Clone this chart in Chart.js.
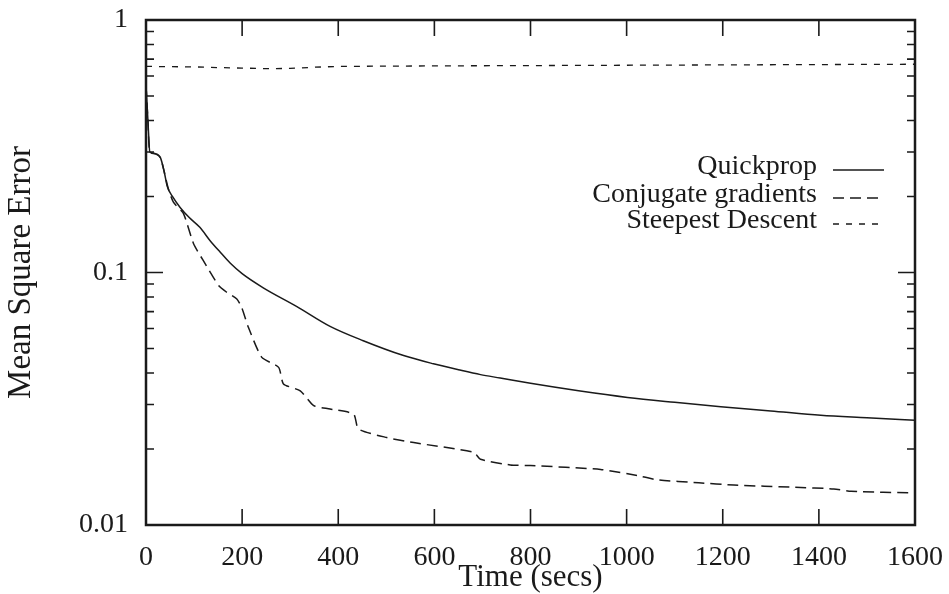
<!DOCTYPE html>
<html>
<head>
<meta charset="utf-8">
<script src="https://cdn.jsdelivr.net/npm/chart.js@4"></script>
<style>
  html, body { margin: 0; padding: 0; background: #fff; }
  #wrap { width: 949px; height: 594px; }
</style>
</head>
<body>
<div id="wrap"><canvas id="errChart"></canvas></div>
<script>
// values (time in secs, mean square error)
const quickTime = [0, 4, 8, 20, 30, 38, 44, 55, 71, 90, 112, 133, 155, 175, 200, 244, 314, 383, 452, 536, 598, 650, 696, 737, 800, 900, 1002, 1100, 1196, 1300, 1404, 1500, 1600];
const quickErr  = [0.55, 0.40, 0.30, 0.295, 0.285, 0.25, 0.22, 0.20, 0.181, 0.165, 0.151, 0.134, 0.12, 0.109, 0.099, 0.087, 0.0733, 0.0612, 0.0537, 0.0469, 0.0435, 0.0412, 0.0394, 0.0382, 0.0364, 0.034, 0.032, 0.0306, 0.0294, 0.0283, 0.0272, 0.0266, 0.026];

const conjTime = [0, 4, 8, 20, 30, 38, 46, 57, 78, 99, 119, 151, 168, 189, 199, 213, 241, 276, 286, 321, 349, 383, 432, 442, 501, 557, 682, 696, 758, 800, 946, 1029, 1064, 1150, 1223, 1350, 1431, 1467, 1600];
const conjErr  = [0.55, 0.40, 0.30, 0.295, 0.285, 0.25, 0.216, 0.19, 0.171, 0.13, 0.1116, 0.0888, 0.0835, 0.0786, 0.0728, 0.0607, 0.0461, 0.0421, 0.0362, 0.034, 0.0297, 0.0288, 0.0275, 0.024, 0.0222, 0.0212, 0.0194, 0.0182, 0.0173, 0.0172, 0.0166, 0.0156, 0.0151, 0.0147, 0.0144, 0.0141, 0.0139, 0.0136, 0.0134];

const steepTime = [0, 100, 150, 200, 250, 300, 350, 400, 600, 800, 1000, 1200, 1400, 1600];
const steepErr  = [0.655, 0.652, 0.648, 0.645, 0.642, 0.643, 0.65, 0.655, 0.658, 0.66, 0.662, 0.664, 0.666, 0.668];

const seriesNames = ['Quickprop', 'Conjugate gradients', 'Steepest Descent'];

const xTicks = [0, 200, 400, 600, 800, 1000, 1200, 1400, 1600];
const yMajor = [0.01, 0.1, 1];
const yTickLabels = ['0.01', '0.1', '1'];
const yMinor = [0.02, 0.03, 0.04, 0.05, 0.06, 0.07, 0.08, 0.09, 0.2, 0.3, 0.4, 0.5, 0.6, 0.7, 0.8, 0.9];

const ink = '#1a1a1a';
const serif = 'Liberation Serif';

function pts(xs, ys) {
    return xs.map((x, i) => ({ x: x, y: ys[i] }));
}

// frame + inward ticks on all four sides
const framePlugin = {
    id: 'frame',
    afterDatasetsDraw(chart) {
        const { ctx, chartArea: a, scales: { x, y } } = chart;
        ctx.save();
        ctx.strokeStyle = ink;
        ctx.lineWidth = 1.6;
        ctx.beginPath();
        xTicks.forEach(v => {
            const px = x.getPixelForValue(v);
            ctx.moveTo(px, a.bottom); ctx.lineTo(px, a.bottom - 16);
            ctx.moveTo(px, a.top); ctx.lineTo(px, a.top + 16);
        });
        yMajor.forEach(v => {
            const py = y.getPixelForValue(v);
            ctx.moveTo(a.left, py); ctx.lineTo(a.left + 17, py);
            ctx.moveTo(a.right, py); ctx.lineTo(a.right - 17, py);
        });
        yMinor.forEach(v => {
            const py = y.getPixelForValue(v);
            ctx.moveTo(a.left, py); ctx.lineTo(a.left + 8, py);
            ctx.moveTo(a.right, py); ctx.lineTo(a.right - 8, py);
        });
        ctx.stroke();
        ctx.lineWidth = 2.5;
        ctx.strokeRect(a.left, a.top, a.right - a.left, a.bottom - a.top);
        ctx.restore();
    }
};

// legend: text right-aligned, line sample to its right
const legendPlugin = {
    id: 'sideLegend',
    afterDatasetsDraw(chart) {
        const ctx = chart.ctx;
        const rows = [167, 195, 221];
        ctx.save();
        ctx.font = '28px "' + serif + '"';
        ctx.fillStyle = ink;
        ctx.textAlign = 'right';
        ctx.textBaseline = 'middle';
        chart.data.datasets.forEach((ds, i) => {
            ctx.fillText(ds.label, 817, rows[i]);
            ctx.strokeStyle = ds.borderColor;
            ctx.lineWidth = ds.borderWidth;
            ctx.setLineDash(ds.borderDash || []);
            ctx.beginPath();
            ctx.moveTo(833, rows[i] + 3);
            ctx.lineTo(884, rows[i] + 3);
            ctx.stroke();
        });
        ctx.restore();
    }
};

new Chart(document.getElementById('errChart'), {
    type: 'line',
    data: {
        datasets: [
            {
                label: seriesNames[0],
                data: pts(quickTime, quickErr),
                borderColor: ink,
                borderWidth: 1.5,
                pointRadius: 0,
                cubicInterpolationMode: 'monotone'
            },
            {
                label: seriesNames[1],
                data: pts(conjTime, conjErr),
                borderColor: ink,
                borderWidth: 1.5,
                borderDash: [11, 6],
                pointRadius: 0,
                tension: 0.2
            },
            {
                label: seriesNames[2],
                data: pts(steepTime, steepErr),
                borderColor: ink,
                borderWidth: 1.3,
                borderDash: [6, 7],
                pointRadius: 0,
                tension: 0
            }
        ]
    },
    options: {
        responsive: true,
        maintainAspectRatio: false,
        animation: false,
        layout: { padding: { left: 0, right: 34, top: 20, bottom: 0 } },
        plugins: {
            legend: { display: false },
            tooltip: { enabled: false }
        },
        scales: {
            x: {
                type: 'linear',
                min: 0,
                max: 1600,
                afterBuildTicks: s => { s.ticks = xTicks.map(v => ({ value: v })); },
                afterFit: s => { s.height = 69; s.paddingLeft = 0; s.paddingRight = 0; },
                grid: { display: false },
                border: { display: false },
                ticks: {
                    color: ink,
                    padding: 8,
                    maxRotation: 0,
                    font: { family: serif, size: 28 },
                    callback: v => String(v)
                },
                title: {
                    display: true,
                    text: 'Time (secs)',
                    color: ink,
                    font: { family: serif, size: 31, lineHeight: 1 },
                    padding: { top: 0, bottom: 1 }
                }
            },
            y: {
                type: 'logarithmic',
                min: 0.01,
                max: 1,
                afterBuildTicks: s => { s.ticks = yMajor.map(v => ({ value: v })); },
                afterFit: s => { s.width = 146; s.paddingTop = 0; s.paddingBottom = 0; },
                grid: { display: false },
                border: { display: false },
                ticks: {
                    color: ink,
                    padding: 10,
                    font: { family: serif, size: 28 },
                    callback: v => yTickLabels[yMajor.indexOf(v)]
                },
                title: {
                    display: true,
                    text: 'Mean Square Error',
                    color: ink,
                    font: { family: serif, size: 33, lineHeight: 1.2 },
                    padding: { top: 2, bottom: 0 }
                }
            }
        }
    },
    plugins: [framePlugin, legendPlugin]
});
</script>
</body>
</html>
